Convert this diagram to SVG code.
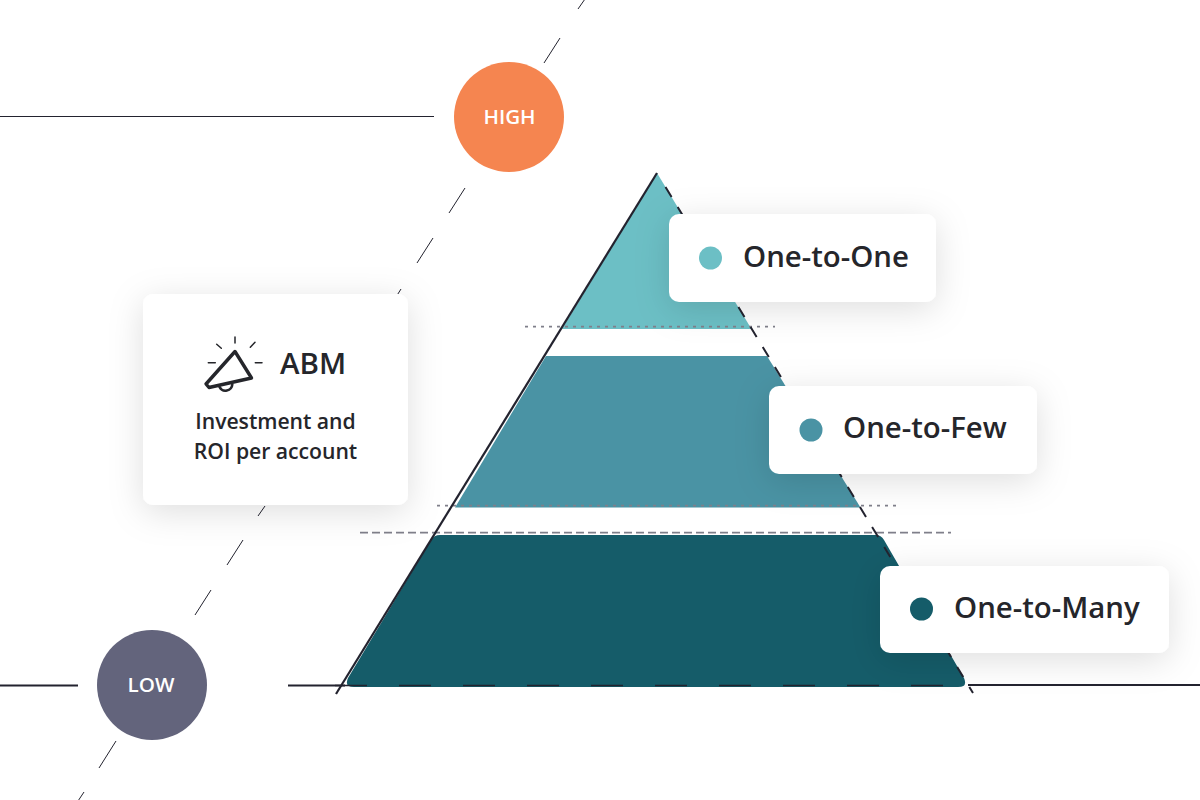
<svg xmlns="http://www.w3.org/2000/svg" width="1200" height="800" viewBox="0 0 1200 800">
  <style>
    text { font-family: "Open Sans", "Noto Sans", "Liberation Sans", sans-serif; font-weight: 600; fill: #25262b; }
    .badge { fill: #fff; font-size: 20.6px; text-anchor: middle; }
    .legend { font-size: 29.4px; }
    .sub { font-size: 21.2px; text-anchor: middle; letter-spacing: -0.03px; }
    .card { fill: #fff; filter: url(#shadow); }
    .axis { stroke: #23232f; fill: none; }
    .diag { stroke: #23232f; stroke-width: 1; fill: none; }
    .icon { stroke: #25262b; fill: none; stroke-linejoin: round; stroke-linecap: round; }
  </style>
  <defs>
    <filter id="shadow" x="-30%" y="-60%" width="160%" height="240%">
      <feDropShadow dx="0" dy="7" stdDeviation="17" flood-color="#000" flood-opacity="0.13"/>
    </filter>
  </defs>
  <rect width="1200" height="800" fill="#fff"/>

  <g id="connectors">
    <path class="axis" stroke-width="1" d="M0 116.5H434"/>
    <path class="axis" stroke-width="2" d="M0 685.5H78M288 685.5H345M968 685H1200"/>
    <path class="diag" d="M585 -1L578 9M560 38L544 63M465 188L449 213M433 238L417 263M401 289L396 297M265 506L258 516M243 540L227 565M211 590L195 615M116 741L99 768M84 792L78 801"/>
  </g>

  <g id="pyramid">
    <path id="tier-top" fill="#6cbfc5" d="M657 173L751.5 329H562Z"/>
    <path id="tier-middle" fill="#4a93a4" d="M546 356H767L860.5 507.5H455Z"/>
    <path id="tier-bottom" fill="#155c69" d="M440 535H876Q881 535 884 540L964 678Q968 687 958 687H354Q344 687 348 678L431 540Q434 535 440 535Z"/>
    <path stroke="#7f7f8a" stroke-width="1.8" fill="none" stroke-dasharray="3 5" d="M525 326.7H775M437 505.7H896"/>
    <path stroke="#7f7f8a" stroke-width="1.8" fill="none" stroke-dasharray="8 4" d="M360 532.7H951"/>
    <path class="axis" stroke-width="2.2" d="M657 173L336 694"/>
    <path class="axis" stroke-width="2" stroke-dasharray="11.7 11.7" d="M665.5 187L973 693"/>
    <path class="axis" stroke-width="1.5" stroke-dasharray="32 32" d="M335 685.5H965"/>
  </g>

  <g id="high">
    <circle cx="509" cy="117" r="55" fill="#f58550"/>
    <text class="badge" x="509.5" y="124">HIGH</text>
  </g>
  <g id="low">
    <circle cx="152" cy="685" r="55" fill="#63647c"/>
    <text class="badge" x="151" y="692">LOW</text>
  </g>

  <g id="abm-card">
    <rect class="card" x="143" y="294" width="265" height="211" rx="10"/>
    <g class="icon">
      <path stroke-width="3.4" d="M235 351.5L251.5 378L209 387.5L206 384Z"/>
      <path stroke-width="2.6" d="M219.5 387A6.8 6.8 0 0 0 232.3 384.5"/>
      <path stroke-width="1.5" d="M235 337V343M216.7 344.3L221.3 348.3M255 342.3L250.3 347.3M208.3 362.7H215.3M255.3 362.7H262"/>
    </g>
    <text x="280" y="374" font-size="29.5">ABM</text>
    <text class="sub" x="275.5" y="429">Investment and</text>
    <text class="sub" x="275.5" y="459">ROI per account</text>
  </g>

  <g id="one-to-one">
    <rect class="card" x="669" y="214" width="267" height="88" rx="10"/>
    <circle cx="710.5" cy="258" r="11.5" fill="#6cbfc5"/>
    <text class="legend" x="743" y="267">One-to-One</text>
  </g>
  <g id="one-to-few">
    <rect class="card" x="769" y="386" width="268" height="88" rx="10"/>
    <circle cx="811" cy="430" r="11.5" fill="#4a93a4"/>
    <text class="legend" x="843" y="438">One-to-Few</text>
  </g>
  <g id="one-to-many">
    <rect class="card" x="880" y="566" width="289" height="87" rx="10"/>
    <circle cx="921.5" cy="609" r="11.5" fill="#155c69"/>
    <text class="legend" x="954" y="618">One-to-Many</text>
  </g>
</svg>
